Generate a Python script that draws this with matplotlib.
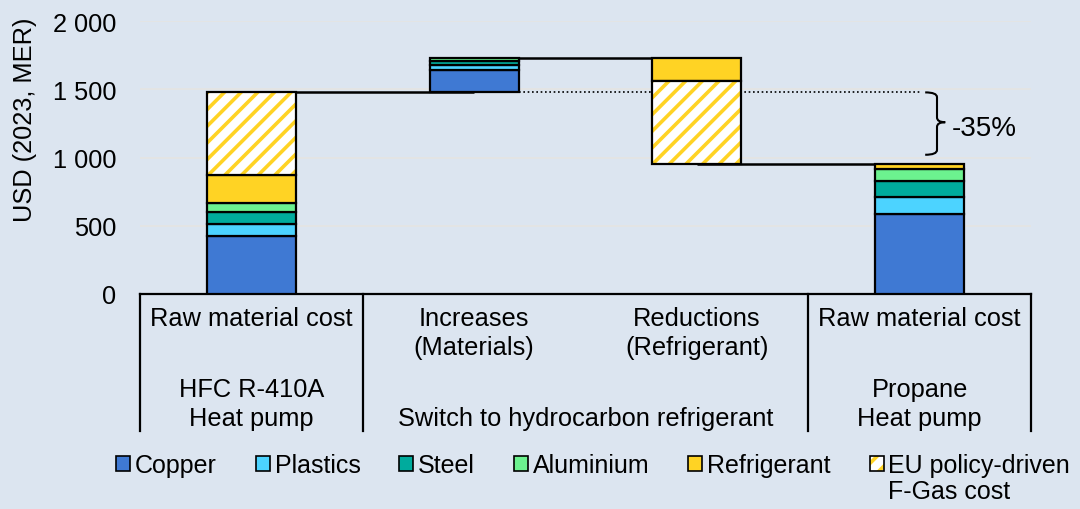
import matplotlib
matplotlib.use("Agg")
import matplotlib.pyplot as plt
import matplotlib.transforms as mtransforms
from matplotlib.patches import Patch, PathPatch
from matplotlib.path import Path

plt.rcParams['font.family'] = ['Liberation Sans', 'DejaVu Sans']
plt.rcParams['hatch.linewidth'] = 2.6

# ---- data -----------------------------------------------------------------
components = ["Copper", "Plastics", "Steel", "Aluminium", "Refrigerant",
              "EU policy-driven\nF-Gas cost"]
hfc_r410a = [427, 88, 83, 66, 208, 605]      # USD, raw material cost
propane = [588, 125, 113, 90, 36, 0]         # USD, raw material cost
step_labels = ["Raw material cost", "Increases\n(Materials)",
               "Reductions\n(Refrigerant)", "Raw material cost"]
group_labels = ["HFC R-410A\nHeat pump", "Switch to hydrocarbon refrigerant",
                "Propane\nHeat pump"]
group_sizes = [1, 2, 1]
y_ticks = [0, 500, 1000, 1500, 2000]
y_tick_labels = ["0", "500", "1 000", "1 500", "2 000"]
y_label = "USD (2023, MER)"
change_label = "-35%"

# ---- style ----------------------------------------------------------------
colors = ["#3f79d3", "#4cd3ff", "#00ab9d", "#6cf28f", "#ffd324", "#ffd324"]
hatched = [False, False, False, False, False, True]
bg = "#dce5f0"
fs = 18.3
leg_fs = 18
bar_w = 0.4
edge_lw = 1.6

fig = plt.figure(figsize=(10.8, 5.1), dpi=100, facecolor=bg)
ax = fig.add_axes([140 / 1080, 1 - 295 / 510, 891 / 1080, 273 / 510])
ax.set_facecolor(bg)


def segment(x, bottom, height, k):
    if height <= 0:
        return
    if hatched[k]:
        ax.bar(x, height, bar_w, bottom=bottom, color="white",
               edgecolor=colors[k], hatch="//", linewidth=0, zorder=3)
        ax.bar(x, height, bar_w, bottom=bottom, fill=False,
               edgecolor="black", linewidth=edge_lw, zorder=4)
    else:
        ax.bar(x, height, bar_w, bottom=bottom, color=colors[k],
               edgecolor="black", linewidth=edge_lw, zorder=3)


# HFC heat pump: stacked cost
level = 0
for k, v in enumerate(hfc_r410a):
    segment(0, level, v, k)
    level += v
hfc_total = level

# Increases (materials)
deltas = [p - h for p, h in zip(propane, hfc_r410a)]
level = hfc_total
for k, d in enumerate(deltas):
    if d > 0:
        segment(1, level, d, k)
        level += d
peak = level

# Reductions (refrigerant), stacked downward from the peak
for k, d in enumerate(deltas):
    if d < 0:
        segment(2, level + d, -d, k)
        level += d

# Propane heat pump: stacked cost
level = 0
for k, v in enumerate(propane):
    segment(3, level, v, k)
    level += v
propane_total = level

# Connectors
line_kw = dict(color="black", lw=1.8, zorder=2, solid_capstyle="butt")
ax.plot([0, 1], [hfc_total, hfc_total], **line_kw)
ax.plot([1, 2], [peak, peak], **line_kw)
ax.plot([2, 3], [propane_total, propane_total], **line_kw)
ax.plot([1 + bar_w / 2, 3], [hfc_total, hfc_total], color="black", lw=1.2,
        linestyle=(0, (1, 1.6)), zorder=2)

# Brace showing the overall change
x0, xv, xt = 3.025, 3.078, 3.115
y_top, y_bot = hfc_total, 1020
y_mid = (y_top + y_bot) / 2 + 10
r = 35
verts = [(x0, y_top), (xv, y_top), (xv, y_top - r), (xv, y_mid + r),
         (xv, y_mid), (xt, y_mid),
         (xt, y_mid), (xv, y_mid), (xv, y_mid - r), (xv, y_bot + r),
         (xv, y_bot), (x0, y_bot)]
codes = [Path.MOVETO, Path.CURVE3, Path.CURVE3, Path.LINETO,
         Path.CURVE3, Path.CURVE3,
         Path.MOVETO, Path.CURVE3, Path.CURVE3, Path.LINETO,
         Path.CURVE3, Path.CURVE3]
ax.add_patch(PathPatch(Path(verts, codes), fill=False, edgecolor="black",
                       lw=1.5, zorder=5))
ax.text(3.145, y_mid - 45, change_label, fontsize=20, ha="left",
        va="center", zorder=5)

# Axes
ax.set_xlim(-0.5, 3.5)
ax.set_ylim(0, 2000)
ax.set_yticks(y_ticks)
ax.set_yticklabels(y_tick_labels, fontsize=fs)
ax.tick_params(axis="y", length=0, pad=17)
ax.set_xticks([])
for s in ["left", "top", "right"]:
    ax.spines[s].set_visible(False)
ax.spines["bottom"].set_linewidth(1.6)
for t in y_ticks[1:]:
    ax.axhline(t, color="#e4e4e4", lw=1.4, zorder=0)

fig.text(25 / 1080, 1 - 120 / 510, y_label, rotation=90, fontsize=fs,
         ha="center", va="center")

# Two-level category axis
trans = mtransforms.blended_transform_factory(ax.transData, ax.transAxes)
box_bottom = -(432 - 295) / 273
edges = [-0.5]
for n in group_sizes:
    edges.append(edges[-1] + n)
for e in edges:
    ax.plot([e, e], [0, box_bottom], color="black", lw=1.6, transform=trans,
            clip_on=False)
for i, lab in enumerate(step_labels):
    ax.text(i, -(307 - 295) / 273, lab, transform=trans, ha="center",
            va="top", fontsize=fs, linespacing=1.25)
for g, lab in enumerate(group_labels):
    centre = (edges[g] + edges[g + 1]) / 2
    ax.text(centre, -(426 - 295) / 273, lab, transform=trans, ha="center",
            va="baseline", fontsize=fs, linespacing=1.25)

# Legend
handles, labels, extra = [], [], []
for k, name in enumerate(components):
    first, *rest = name.split("\n")
    if hatched[k]:
        h = (Patch(facecolor="white", edgecolor=colors[k], hatch="//", lw=0),
             Patch(fill=False, edgecolor="black", lw=1.2))
    else:
        h = Patch(facecolor=colors[k], edgecolor="black", lw=1.2)
    handles.append(h)
    labels.append(first)
    extra.append("\n".join(rest))
leg = fig.legend(handles, labels, loc="upper left",
                 bbox_to_anchor=(116 / 1080, 1 - 454 / 510), ncol=6,
                 frameon=False, fontsize=leg_fs, handlelength=0.56,
                 handleheight=0.56, handletextpad=0.2, columnspacing=1.55,
                 borderpad=0, borderaxespad=0)
fig.canvas.draw()
renderer = fig.canvas.get_renderer()
for txt, more in zip(leg.get_texts(), extra):
    if more:
        bb = txt.get_window_extent(renderer)
        fig.text(bb.x0, bb.y0 - 2, more, fontsize=leg_fs, ha="left",
                 va="top", transform=None)

fig.savefig("out.png", dpi=100, facecolor=bg)
